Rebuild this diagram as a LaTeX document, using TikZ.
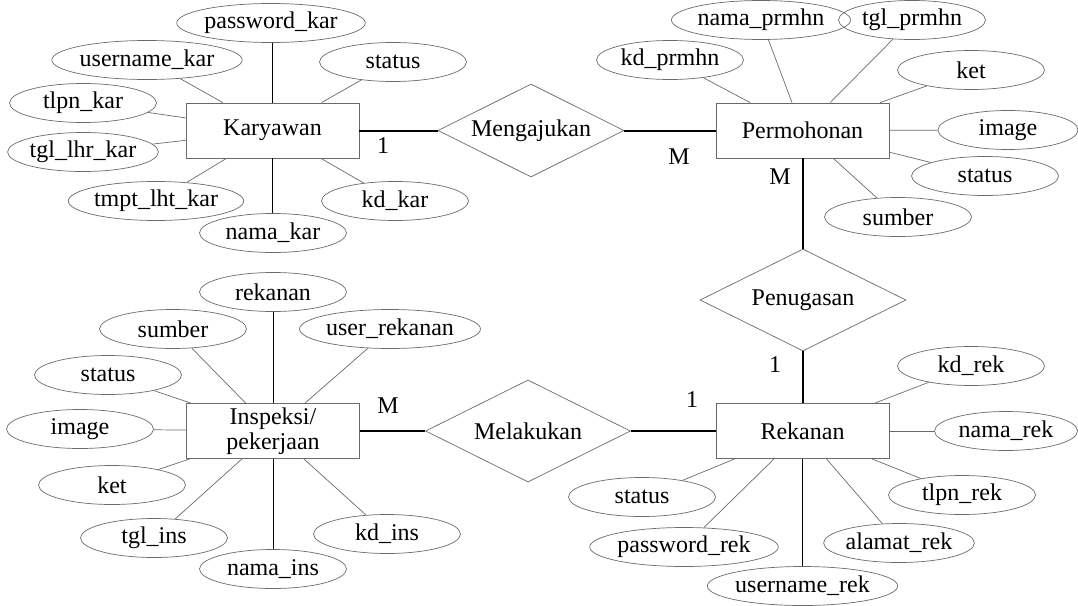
\documentclass[tikz,border=0pt]{standalone}
\usepackage{fontspec}
\setmainfont{Liberation Serif}
\usetikzlibrary{shapes.geometric}
\definecolor{edgegray}{HTML}{6A6A6A}
\begin{document}
\begin{tikzpicture}[x=1pt,y=-1pt,
  font=\fontsize{24}{25}\selectfont,
  entity/.style={draw=edgegray,line width=0.8pt,rectangle,inner sep=0pt,
    minimum width=173pt,minimum height=55pt,align=center},
  attr/.style={draw=edgegray,line width=0.7pt,ellipse,inner sep=0pt,
    minimum width=#1,minimum height=39pt},
  attr/.default=147pt,
  rel/.style={draw=edgegray,line width=0.7pt,diamond,aspect=2,inner sep=0pt},
  card/.style={inner sep=0pt},
  link/.style={draw=edgegray,line width=0.7pt},
  keylink/.style={draw=black,line width=0.8pt},
  rellink/.style={draw=black,line width=2pt}]
\useasboundingbox (0,0) rectangle (1078,605);

% ---------- entities ----------
\node[entity] (kar) at (272.5,130.5) {Karyawan};
\node[entity] (prm) at (802.5,130.5) {Permohonan};
\node[entity] (rek) at (802.5,431) {Rekanan};
\node[entity] (ins) at (273,431) {Inspeksi/\\pekerjaan};

% ---------- relationships ----------
\node[rel,minimum width=186pt,minimum height=93pt] (ajukan) at (531,130.5) {Mengajukan};
\node[rel,minimum width=206pt,minimum height=102pt] (tugas) at (803,300) {Penugasan};
\node[rel,minimum width=205pt,minimum height=102pt] (laku) at (528,431) {Melakukan};

\draw[rellink] (kar) -- (ajukan);
\draw[rellink] (ajukan) -- (prm);
\draw[rellink] (prm.south -| tugas.north) -- (tugas.north);
\draw[rellink] (tugas.south) -- (rek.north -| tugas.south);
\draw[rellink] (ins) -- (laku);
\draw[rellink] (laku) -- (rek);

% ---------- cardinalities ----------
\node[card] (c1) at (383,146) {1};
\node[card] (c2) at (679,157) {M};
\node[card] (c3) at (780,177) {M};
\node[card] (c4) at (775,365) {1};
\node[card] (c5) at (388,406) {M};
\node[card] (c6) at (692,400) {1};

% ---------- Karyawan attributes ----------
\node[attr=170pt] (karpw) at (271,23) {password\_kar};
\node[attr=173pt] (karun) at (147,60) {username\_kar};
\node[attr] (kartl) at (83,103) {tlpn\_kar};
\node[attr] (karlh) at (83,152) {tgl\_lhr\_kar};
\node[attr] (kartm) at (156,201) {tmpt\_lht\_kar};
\node[attr] (karnm) at (273,233) {nama\_kar};
\node[attr] (karst) at (393,62) {status};
\node[attr] (karkd) at (395,201) {kd\_kar};

\draw[keylink] (karpw.south -| kar.north) -- (kar.north);
\draw[keylink] (kar.south) -- (kar.south |- karnm.north);
\draw[link] (karun) -- (kar);
\draw[link] (kartl) -- (kar);
\draw[link] (karlh) -- (kar);
\draw[link] (kartm) -- (kar);
\draw[link] (karst) -- (kar);
\draw[link] (karkd) -- (kar);

% ---------- Permohonan attributes ----------
\node[attr] (prmkd) at (670,60) {kd\_prmhn};
\node[attr] (prmnm) at (761,20) {nama\_prmhn};
\node[attr] (prmtg) at (912,20) {tgl\_prmhn};
\node[attr] (prmkt) at (971,70) {ket};
\node[attr=140pt] (prmim) at (1008,130) {image};
\node[attr] (prmst) at (985,176) {status};
\node[attr] (prmsb) at (898,217) {sumber};

\draw[link] (prmkd) -- (prm);
\draw[link] (prmnm) -- (prm);
\draw[link] (prmtg) -- (prm);
\draw[link] (prmkt) -- (prm);
\draw[link] (prmim) -- (prm);
\draw[link] (prmst) -- (prm);
\draw[link] (prmsb) -- (prm);

% ---------- Rekanan attributes ----------
\node[attr] (rekkd) at (971,366) {kd\_rek};
\node[attr=143pt] (reknm) at (1006,431) {nama\_rek};
\node[attr] (rektl) at (962,495) {tlpn\_rek};
\node[attr] (rekal) at (899,543) {alamat\_rek};
\node[attr=173pt] (rekun) at (802.5,586) {username\_rek};
\node[attr=174pt] (rekpw) at (684,547) {password\_rek};
\node[attr] (rekst) at (642,497) {status};

\draw[link] (rekkd) -- (rek);
\draw[link] (reknm) -- (rek);
\draw[link] (rektl) -- (rek);
\draw[link] (rekal) -- (rek);
\draw[keylink] (rek.south) -- (rekun.north);
\draw[link] (rekpw) -- (rek);
\draw[link] (rekst) -- (rek);

% ---------- Inspeksi/pekerjaan attributes ----------
\node[attr] (insrk) at (273,292) {rekanan};
\node[attr] (inssb) at (173,329) {sumber};
\node[attr=150pt] (insur) at (390,329) {user\_rekanan};
\node[attr] (insst) at (108,375) {status};
\node[attr] (insim) at (80,429) {image};
\node[attr] (inskt) at (112,485) {ket};
\node[attr] (instg) at (154,538) {tgl\_ins};
\node[attr] (insnm) at (273,569) {nama\_ins};
\node[attr] (inskd) at (387,534) {kd\_ins};

\draw[keylink] (insrk.south) -- (ins.north -| insrk.south);
\draw[keylink] (ins.south -| insnm.north) -- (insnm.north);
\draw[link] (inssb) -- (ins);
\draw[link] (insur) -- (ins);
\draw[link] (insst) -- (ins);
\draw[link] (insim) -- (ins);
\draw[link] (inskt) -- (ins);
\draw[link] (instg) -- (ins);
\draw[link] (inskd) -- (ins);
\end{tikzpicture}
\end{document}
